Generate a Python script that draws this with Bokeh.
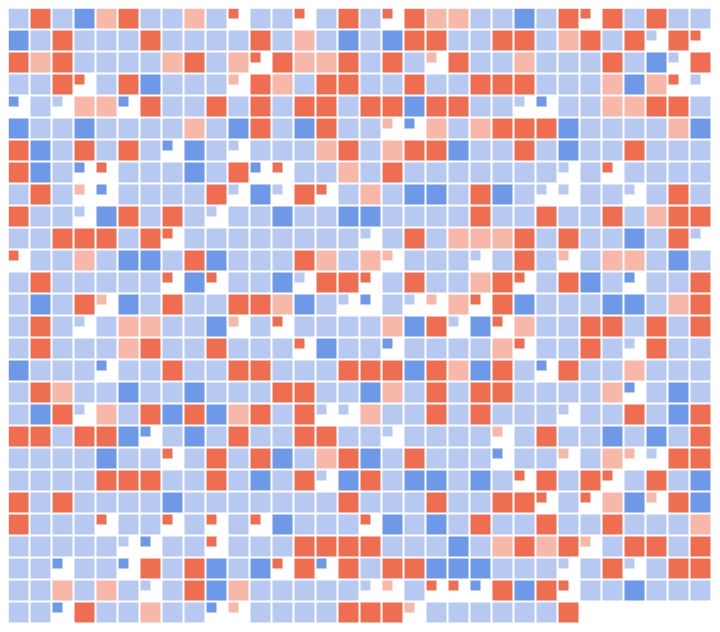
from bokeh.embed import file_html
from bokeh.models import ColumnDataSource, Range1d
from bokeh.plotting import figure
from bokeh.resources import INLINE

# One letter per cell: L light blue, B blue, R red, P pink; lower case marks a small square.
row_codes = [
    "LRLBPRLLPLrLLrLRLrRPPLLBLRrRLRLL",
    "BLRLLLRLLLLRLPLBLBRRLLRRLPRLRlRr",
    "RPRLLLLPRLPrRPPRLRLpRLLPLLLRLBlR",
    "LLRrLRBLLLpRPLRRLLRLLRRRLLLPBPrl",
    "bLlPPbRLLRLRLRRLRRBRRLLlbLLPPRRL",
    "BLLBLLLLPLBRLBRLLpbPLPRRRBLLLLPB",
    "RBLRLRLbBLlLLLPRLPRRBLLRLBLLRLLL",
    "RBLbrLLLBLRbrLLPLRLLLLLLLlLrLLLL",
    "LRLpbLLLLRlBlRrLPLBBLRBLllLLlLRL",
    "RLLlBRLRLlLLBLLBBLLLLRLLRLLRLPRR",
    "LLRRRLRrLLLLLLLLlLRLPPPRLRLLBLRl",
    "rLLPLBBLRBLLLRPLPpLLLlLRLpLPPLBL",
    "LRLLLLLrBrLLBlRRrLRLLPRrLRBLbLLR",
    "LBLRpBLRLLRRPBLlbLlpPrRBLLLBBLPR",
    "LRLlLPPLLBpLrLLLLPBRlBrPLLRRLRLR",
    "LRLLLPRLLRLLLrBLLbLLLLPrLLRLlRLL",
    "BLLLbLLRLLRRLLLRRRBRPBRLbRLLPLLL",
    "LRPLLBLLBLLLRRLLBPLRLRRLLLLPbLBL",
    "LBRlPLRBRBPRLRllPLLRLRLLLlLLRLBR",
    "RRLRRBbLBLRLLRRLLlLLLLpLRLLBLBLR",
    "LLLLBLLrLRLRBLPRBLRLLLbLLpLPplRR",
    "LLLLRRRLLRLBLRlBRLBBLBLrRLRrLRLB",
    "RLRLLLLBLLLLLLLRLLLRLLRRrLrPBpRB",
    "RLLLrLLrLrLrBLLLrBLBLRLLRLLRLLLP",
    "LLLLLlbLLrLLLRRRRLLLBLPRPRpLRRLR",
    "LLbLLbRLRBLBrRbRLRRBBBLLLlLRlLRR",
    "LLPLPLlLRBPLLLLLlpLrrbRBRrLLBLLL",
    "LLbRLLPLLbpLLLLRRRpLLLLLLR",
]

palette = {"L": "#b7c9f1", "B": "#6e98e8", "R": "#ef6e52", "P": "#f7b8a9"}

PITCH_PX = 22
FULL_PX = 20
SMALL_PX = 10
MARGIN_PX = 8
n_cols = max(len(r) for r in row_codes)
n_rows = len(row_codes)

left, right, top, bottom, fill = [], [], [], [], []
for r, codes in enumerate(row_codes):
    for c, code in enumerate(codes):
        size = (SMALL_PX if code.islower() else FULL_PX) / PITCH_PX
        left.append(c)
        right.append(c + size)
        top.append(r)
        bottom.append(r + size)
        fill.append(palette[code.upper()])

source = ColumnDataSource(dict(left=left, right=right, top=top, bottom=bottom, fill=fill))

p = figure(
    width=n_cols * PITCH_PX + 2 * MARGIN_PX,
    height=n_rows * PITCH_PX + 2 * MARGIN_PX,
    x_range=Range1d(0, n_cols),
    y_range=Range1d(n_rows, 0),
    output_backend="svg",
    toolbar_location=None,
    min_border=MARGIN_PX,
    outline_line_color=None,
    x_axis_location=None,
    y_axis_location=None,
)
p.grid.visible = False
p.quad(left="left", right="right", top="top", bottom="bottom", fill_color="fill",
       line_color=None, source=source)

open("out.html", "w").write(file_html(p, INLINE))
